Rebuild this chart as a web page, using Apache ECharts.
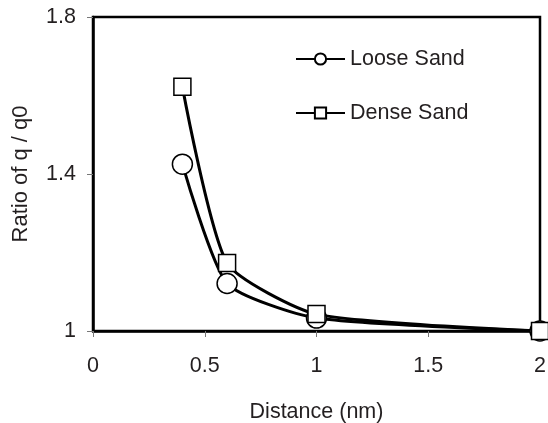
<!DOCTYPE html>
<html>
<head>
<meta charset="utf-8">
<script src="https://cdn.jsdelivr.net/npm/echarts@6/dist/echarts.min.js"></script>
<style>
  html, body { margin: 0; padding: 0; background: #fff; }
  #chart { width: 548px; height: 423px; }
</style>
</head>
<body>
<div id="chart"></div>
<script>
// data
const distance = [0.4, 0.6, 1, 2];
const looseSand = [1.425, 1.121, 1.033, 1.0];
const denseSand = [1.622, 1.173, 1.043, 1.0];
const seriesNames = ['Loose Sand', 'Dense Sand'];

const font = 'Liberation Sans, Arial, sans-serif';
const ink = '#231f20';
const fs = 21.5;

const pairs = (ys) => distance.map((x, i) => [x, ys[i]]);

const chart = echarts.init(document.getElementById('chart'), null, { renderer: 'canvas' });

const markerStyle = { color: '#fff', borderColor: '#000', borderWidth: 1.5 };

chart.setOption({
  animation: false,
  backgroundColor: '#fff',
  grid: {
    left: 93, right: 8, top: 17, bottom: 92,
    outerBoundsMode: 'none',
    containLabel: false,
    show: true, borderColor: '#000', borderWidth: 2.5, backgroundColor: 'transparent'
  },
  legend: {
    orient: 'vertical',
    left: 290,
    top: 43,
    padding: 5,
    itemGap: 32,
    itemWidth: 49,
    itemHeight: 14,
    data: seriesNames,
    textStyle: { fontFamily: font, fontSize: fs, color: ink, padding: [0, 0, 0, 0] }
  },
  xAxis: {
    type: 'value',
    min: 0, max: 2, interval: 0.5,
    name: 'Distance (nm)',
    nameLocation: 'middle',
    nameGap: 70,
    nameTextStyle: { fontFamily: font, fontSize: fs, color: ink },
    axisLine: { lineStyle: { color: '#000', width: 2.5 } },
    axisTick: { show: true, length: 6, lineStyle: { color: '#777', width: 1 } },
    axisLabel: { margin: 24, fontFamily: font, fontSize: fs, color: ink },
    splitLine: { show: false }
  },
  yAxis: {
    type: 'value',
    min: 1, max: 1.8, interval: 0.4,
    name: 'Ratio of q / q0',
    nameLocation: 'middle',
    nameGap: 61,
    nameTextStyle: { fontFamily: font, fontSize: 22, color: ink },
    axisLine: { show: true, lineStyle: { color: '#000', width: 2.5 } },
    axisTick: { show: true, length: 6, lineStyle: { color: '#777', width: 1 } },
    axisLabel: { margin: 17, fontFamily: font, fontSize: fs, color: ink },
    splitLine: { show: false }
  },
  series: [
    {
      name: seriesNames[0],
      type: 'line',
      data: pairs(looseSand),
      smooth: 0.2,
      symbol: 'circle',
      symbolSize: 20,
      showAllSymbol: true,
      lineStyle: { color: '#000', width: 3 },
      itemStyle: markerStyle,
      z: 3
    },
    {
      name: seriesNames[1],
      type: 'line',
      data: pairs(denseSand),
      smooth: 0.2,
      symbol: 'rect',
      symbolSize: 17,
      showAllSymbol: true,
      lineStyle: { color: '#000', width: 3 },
      itemStyle: markerStyle,
      z: 3
    }
  ]
});
</script>
</body>
</html>
